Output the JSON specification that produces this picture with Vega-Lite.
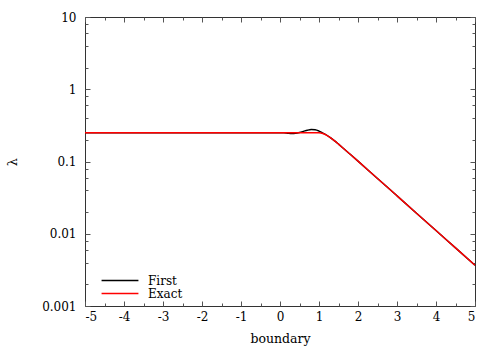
{
  "$schema": "https://vega.github.io/schema/vega-lite/v6.json",
  "width": 390,
  "height": 289,
  "autosize": {"type": "none"},
  "padding": {"left": 85, "top": 17, "right": 25, "bottom": 44},
  "config": {
    "view": {"stroke": "#333333", "strokeWidth": 1},
    "font": "DejaVu Serif",
    "axis": {"grid": false, "labelFont": "DejaVu Serif", "titleFont": "DejaVu Serif", "labelColor": "#000000", "titleColor": "#000000", "titleFontWeight": "normal", "tickColor": "#555555", "domain": false}
  },
  "data": {
    "values": [
      {"series": "First", "x": -5, "y": 0.25},
      {"series": "First", "x": -2.5, "y": 0.25},
      {"series": "First", "x": 0, "y": 0.25},
      {"series": "First", "x": 0.1, "y": 0.249},
      {"series": "First", "x": 0.2, "y": 0.246},
      {"series": "First", "x": 0.3, "y": 0.244},
      {"series": "First", "x": 0.4, "y": 0.246},
      {"series": "First", "x": 0.5, "y": 0.252},
      {"series": "First", "x": 0.6, "y": 0.261},
      {"series": "First", "x": 0.7, "y": 0.271},
      {"series": "First", "x": 0.8, "y": 0.277},
      {"series": "First", "x": 0.9, "y": 0.275},
      {"series": "First", "x": 1.0, "y": 0.264},
      {"series": "First", "x": 1.1, "y": 0.247},
      {"series": "First", "x": 1.2, "y": 0.2307},
      {"series": "First", "x": 1.3, "y": 0.2123},
      {"series": "First", "x": 1.4, "y": 0.1928},
      {"series": "First", "x": 1.5, "y": 0.1738},
      {"series": "First", "x": 1.6, "y": 0.1563},
      {"series": "First", "x": 1.8, "y": 0.1259},
      {"series": "First", "x": 2.0, "y": 0.1012},
      {"series": "First", "x": 2.5, "y": 0.0582},
      {"series": "First", "x": 3.0, "y": 0.0335},
      {"series": "First", "x": 3.5, "y": 0.01928},
      {"series": "First", "x": 4.0, "y": 0.01109},
      {"series": "First", "x": 4.5, "y": 0.00638},
      {"series": "First", "x": 5.0, "y": 0.00367},
      {"series": "Exact", "x": -5, "y": 0.25},
      {"series": "Exact", "x": -2.5, "y": 0.25},
      {"series": "Exact", "x": 0, "y": 0.25},
      {"series": "Exact", "x": 0.5, "y": 0.25},
      {"series": "Exact", "x": 0.9, "y": 0.25},
      {"series": "Exact", "x": 1.0, "y": 0.25},
      {"series": "Exact", "x": 1.05, "y": 0.2485},
      {"series": "Exact", "x": 1.1, "y": 0.2443},
      {"series": "Exact", "x": 1.2, "y": 0.2307},
      {"series": "Exact", "x": 1.3, "y": 0.2123},
      {"series": "Exact", "x": 1.4, "y": 0.1928},
      {"series": "Exact", "x": 1.5, "y": 0.1738},
      {"series": "Exact", "x": 1.6, "y": 0.1563},
      {"series": "Exact", "x": 1.8, "y": 0.1259},
      {"series": "Exact", "x": 2.0, "y": 0.1012},
      {"series": "Exact", "x": 2.5, "y": 0.0582},
      {"series": "Exact", "x": 3.0, "y": 0.0335},
      {"series": "Exact", "x": 3.5, "y": 0.01928},
      {"series": "Exact", "x": 4.0, "y": 0.01109},
      {"series": "Exact", "x": 4.5, "y": 0.00638},
      {"series": "Exact", "x": 5.0, "y": 0.00367}
    ]
  },
  "resolve": {"axis": {"x": "independent", "y": "independent"}},
  "layer": [
    {
      "mark": {"type": "line", "strokeWidth": 1.4, "interpolate": "monotone"},
      "encoding": {
        "x": {"field": "x", "type": "quantitative", "scale": {"domain": [-5, 5], "nice": false, "zero": false},
          "axis": {"orient": "bottom", "values": [-5, -4, -3, -2, -1, 0, 1, 2, 3, 4, 5], "labelExpr": "'' + datum.value", "ticks": false, "labelPadding": 5, "labelFontSize": 12, "title": "boundary", "titleFontSize": 12.5, "titleX": 195, "titleY": 36, "titleBaseline": "alphabetic", "titleAnchor": "middle", "titleAlign": "center"}},
        "y": {"field": "y", "type": "quantitative", "scale": {"type": "log", "domain": [0.001, 10], "nice": false},
          "axis": {"orient": "left", "values": [0.001, 0.01, 0.1, 1, 10], "format": "~g", "ticks": false, "labelPadding": 9, "labelFontSize": 12, "title": "λ", "titleFontSize": 13, "titleX": -73, "titleY": 144.5, "titleAngle": -90, "titleAlign": "center", "titleBaseline": "middle", "titleAnchor": "middle"}},
        "color": {"field": "series", "type": "nominal", "sort": ["First", "Exact"],
          "scale": {"domain": ["First", "Exact"], "range": ["#000000", "#ff0000"]},
          "legend": {"title": null, "orient": "none", "legendX": 28, "legendY": 256.5, "symbolType": "M-3,0H3", "symbolSize": 151, "symbolStrokeWidth": 1.4, "symbolFillColor": "transparent", "labelFont": "DejaVu Serif", "labelFontSize": 12, "labelColor": "#000000", "labelOffset": 21, "rowPadding": 0, "padding": 0}}
      }
    },
    {
      "mark": {"type": "point", "opacity": 0},
      "encoding": {
        "x": {"field": "x", "type": "quantitative", "scale": {"domain": [-5, 5], "nice": false, "zero": false},
          "axis": {"orient": "bottom", "values": [-5, -4, -3, -2, -1, 0, 1, 2, 3, 4, 5], "labels": false, "title": null, "offset": -5, "tickSize": 5}},
        "y": {"field": "y", "type": "quantitative", "scale": {"type": "log", "domain": [0.001, 10], "nice": false},
          "axis": {"orient": "left", "values": [0.001, 0.01, 0.1, 1, 10], "labels": false, "title": null, "offset": -5, "tickSize": 5}}
      }
    },
    {
      "mark": {"type": "point", "opacity": 0},
      "encoding": {
        "x": {"field": "x", "type": "quantitative", "scale": {"domain": [-5, 5], "nice": false, "zero": false},
          "axis": {"orient": "bottom", "values": [-4.5, -3.5, -2.5, -1.5, -0.5, 0.5, 1.5, 2.5, 3.5, 4.5], "labels": false, "title": null, "offset": -3, "tickSize": 3}},
        "y": {"field": "y", "type": "quantitative", "scale": {"type": "log", "domain": [0.001, 10], "nice": false},
          "axis": {"orient": "left", "values": [0.002, 0.004, 0.006, 0.008, 0.02, 0.04, 0.06, 0.08, 0.2, 0.4, 0.6, 0.8, 2, 4, 6, 8], "labels": false, "title": null, "offset": -3, "tickSize": 3}}
      }
    },
    {
      "mark": {"type": "point", "opacity": 0},
      "encoding": {
        "x": {"field": "x", "type": "quantitative", "scale": {"domain": [-5, 5], "nice": false, "zero": false},
          "axis": {"orient": "top", "values": [-5, -4, -3, -2, -1, 0, 1, 2, 3, 4, 5], "labels": false, "title": null, "offset": -5, "tickSize": 5}},
        "y": {"field": "y", "type": "quantitative", "scale": {"type": "log", "domain": [0.001, 10], "nice": false},
          "axis": {"orient": "right", "values": [0.001, 0.01, 0.1, 1, 10], "labels": false, "title": null, "offset": -5, "tickSize": 5}}
      }
    },
    {
      "mark": {"type": "point", "opacity": 0},
      "encoding": {
        "x": {"field": "x", "type": "quantitative", "scale": {"domain": [-5, 5], "nice": false, "zero": false},
          "axis": {"orient": "top", "values": [-4.5, -3.5, -2.5, -1.5, -0.5, 0.5, 1.5, 2.5, 3.5, 4.5], "labels": false, "title": null, "offset": -3, "tickSize": 3}},
        "y": {"field": "y", "type": "quantitative", "scale": {"type": "log", "domain": [0.001, 10], "nice": false},
          "axis": {"orient": "right", "values": [0.002, 0.004, 0.006, 0.008, 0.02, 0.04, 0.06, 0.08, 0.2, 0.4, 0.6, 0.8, 2, 4, 6, 8], "labels": false, "title": null, "offset": -3, "tickSize": 3}}
      }
    }
  ]
}
